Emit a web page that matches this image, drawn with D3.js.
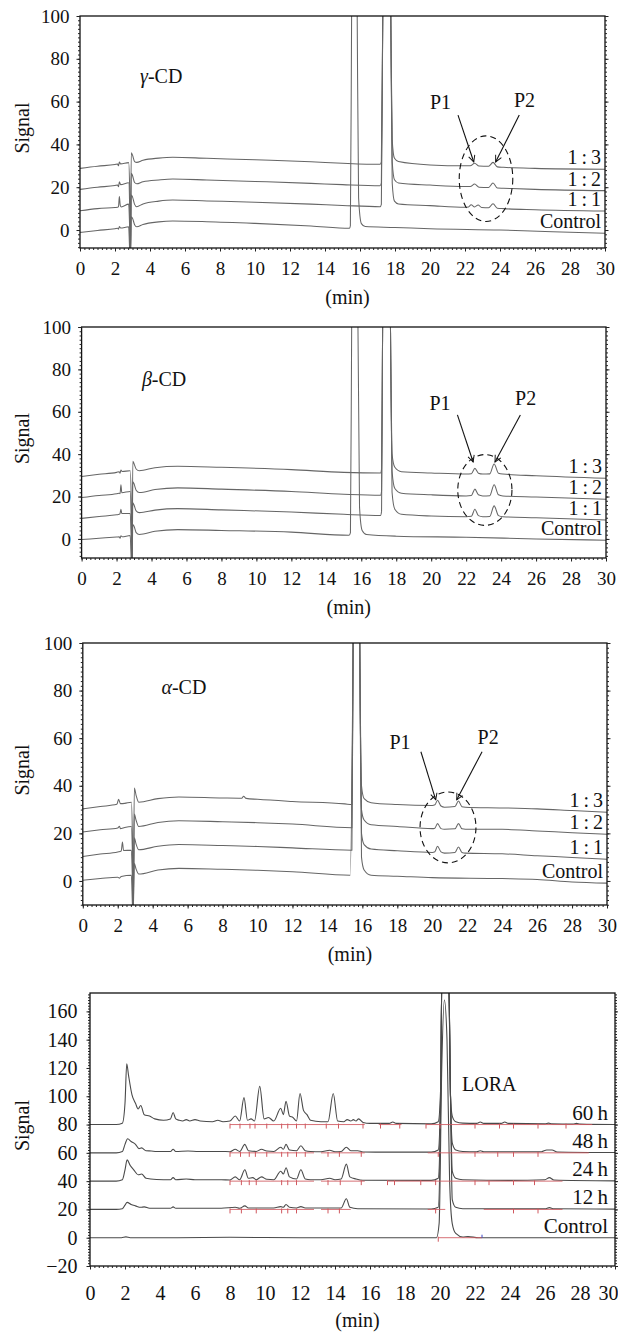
<!DOCTYPE html>
<html>
<head>
<meta charset="utf-8">
<script src="https://cdn.jsdelivr.net/npm/d3@7"></script>
<style>
  body { margin: 0; background: #fff; }
</style>
</head>
<body>
<svg id="fig" width="618" height="1333"></svg>
<script>
/* Chromatograms: CD inclusion (gamma / beta / alpha) + LORA degradation */

// --- axis ticks ---
const xTicks = [0, 2, 4, 6, 8, 10, 12, 14, 16, 18, 20, 22, 24, 26, 28, 30];
const cdTicks = [0, 20, 40, 60, 80, 100];
const loraTicks = [-20, 0, 20, 40, 60, 80, 100, 120, 140, 160];

// --- trace names ---
const ratioNames = ["1\u2009:\u20093", "1\u2009:\u20092", "1\u2009:\u20091", "Control"];
const timeNames = ["60\u2009h", "48\u2009h", "24\u2009h", "12\u2009h", "Control"];

// --- gamma-CD traces [min, signal] ---
const gamma13 = [[0,28.8],[1,29.8],[2.0,30.6],[2.15,30.8],[2.2,30.0],[2.25,31.8],[2.32,30.9],[2.78,31.5],[2.84,18],[2.88,-15],[2.93,36.1],[3.0,35],[3.12,32.0],[3.24,31.6],[3.6,32.6],[4.5,33.6],[5.3,34.0],[7.25,33.5],[10,32.8],[13.2,31.9],[15,31.2],[17.15,30.7],[17.22,32],[17.3,100],[17.36,150],[17.7,150],[17.76,100],[17.84,42],[17.97,33.5],[18.2,32],[20,30.4],[22,30],[22.3,30],[22.55,31.2],[22.8,29.9],[23.35,29.8],[23.6,31.6],[23.85,29.5],[24.2,29.3],[26,28.8],[30,28.4]];
const gamma12 = [[0,19],[1,20],[2.0,20.8],[2.15,21],[2.2,20.2],[2.25,22.5],[2.32,21.2],[2.78,22.1],[2.84,10],[2.88,-15],[2.93,26.5],[3.0,25.5],[3.12,22.2],[3.24,21.6],[3.6,22.6],[4.5,23.4],[5.3,23.8],[7.25,23.4],[10,22.7],[13.2,21.8],[15,21.2],[17.15,20.7],[17.22,22],[17.3,100],[17.36,150],[17.7,150],[17.76,100],[17.84,32],[17.97,23.5],[18.2,22],[20,21],[22,20.3],[22.3,20.3],[22.55,21.5],[22.8,20],[23.35,19.9],[23.6,22],[23.85,19.6],[24.2,19.5],[26,19],[30,18.4]];
const gamma11 = [[0,9],[1,10],[2.0,10.5],[2.15,10.6],[2.2,11],[2.25,15.6],[2.3,11.5],[2.36,10.8],[2.78,12.1],[2.84,0],[2.88,-15],[2.93,16.4],[3.0,15.5],[3.12,12],[3.24,10.9],[3.6,12.2],[4.5,13.5],[5.3,14],[7.25,13.6],[10,13],[13.2,12.1],[15,11.5],[17.15,10.9],[17.22,12],[17.3,100],[17.36,150],[17.7,150],[17.76,100],[17.84,22],[17.97,13.5],[18.2,12.2],[20,11.4],[22,10.6],[22.2,10.8],[22.35,11.8],[22.55,10.8],[22.75,11.7],[22.95,10.5],[23.35,10.4],[23.6,12.3],[23.85,10.2],[24.2,10],[26,9.5],[30,8.9]];
const gammaCtrl = [[0,-1.1],[1,-0.2],[2.0,0.6],[2.15,0.8],[2.2,0.4],[2.25,1.6],[2.32,0.9],[2.78,1.5],[2.84,-10],[2.88,-15],[2.93,6.2],[3.0,5.5],[3.12,2.5],[3.24,1.5],[3.6,2.6],[4.5,3.8],[5.3,4.2],[7.25,3.9],[10,3.1],[13.2,1.9],[15.4,0.8],[15.45,2],[15.52,100],[15.56,150],[15.8,150],[15.84,100],[15.92,15],[16.08,3],[16.3,1.6],[18,1.2],[20,0.6],[24,0],[27,-0.8],[30,-1.5]];

// --- beta-CD traces ---
const beta13 = [[0,29.5],[1,30.5],[2.0,31.4],[2.15,31.7],[2.2,31],[2.25,32.5],[2.32,31.8],[2.78,32.2],[2.84,18],[2.88,-15],[2.93,36.7],[3.0,35.5],[3.12,33],[3.3,32.2],[4.2,33.6],[5.5,34.3],[8,33.8],[12,32.7],[15,31.4],[17.1,31.1],[17.16,33],[17.22,100],[17.27,150],[17.63,150],[17.67,100],[17.76,40],[17.92,33.8],[18.3,31.7],[20,31.1],[22,30.6],[22.3,30.8],[22.5,33.3],[22.7,31],[22.95,30.6],[23.35,30.7],[23.6,35.4],[23.85,31],[24.1,30.6],[26,29.8],[30,28.6]];
const beta12 = [[0,19.5],[1,20.5],[2.0,21.3],[2.15,21.6],[2.2,21.3],[2.25,25.6],[2.3,21.8],[2.78,22.4],[2.84,10],[2.88,-15],[2.93,27],[3.0,26],[3.12,23],[3.3,21.9],[4.2,23.3],[5.5,24.1],[8,23.5],[12,22.4],[15,21.1],[17.1,20.6],[17.16,22.5],[17.22,100],[17.27,150],[17.63,150],[17.67,100],[17.76,32],[17.92,23.8],[18.3,21.6],[20,20.8],[22,20.3],[22.3,20.5],[22.5,23.5],[22.7,20.8],[22.95,20.3],[23.35,20.4],[23.6,25.6],[23.85,20.8],[24.1,20.3],[26,19.8],[30,18.7]];
const beta11 = [[0,9.7],[1,10.6],[2.0,11.4],[2.15,11.6],[2.2,12],[2.25,14],[2.3,12],[2.78,12],[2.84,0],[2.88,-15],[2.93,17.1],[3.0,16],[3.12,13.2],[3.3,12.4],[4.2,13.6],[5.5,14.3],[8,13.7],[12,12.7],[15,11.6],[17.1,11.1],[17.16,13],[17.22,100],[17.27,150],[17.63,150],[17.67,100],[17.76,22],[17.92,14],[18.3,11.6],[20,10.8],[22,10.5],[22.3,10.7],[22.5,14],[22.7,11],[22.95,10.5],[23.35,10.6],[23.6,15.6],[23.85,11],[24.1,10.5],[26,10],[30,8.9]];
const betaCtrl = [[0,-0.3],[1,0.3],[2.0,0.9],[2.15,1],[2.2,0.3],[2.25,1.5],[2.32,1],[2.78,1.6],[2.84,-10],[2.88,-15],[2.93,6.8],[3.0,6],[3.12,3],[3.3,2.1],[4.2,3.6],[5.5,4.4],[8,4],[12,3.2],[15.3,1.7],[15.38,3],[15.45,100],[15.5,150],[15.78,150],[15.81,100],[15.9,15],[16.05,4],[16.3,2.1],[18,1.3],[22,0.8],[26,0],[30,-0.6]];

// --- alpha-CD traces ---
const alpha13 = [[0,30.3],[1,31.3],[1.95,32.2],[2.05,34.3],[2.15,32.5],[2.4,32.6],[2.78,33.1],[2.84,18],[2.88,-15],[2.95,39.1],[3.05,36],[3.2,33.1],[4.3,34.6],[5.5,35.3],[8,34.9],[9.1,34.8],[9.2,35.6],[9.35,34.7],[10,34.3],[12,33.4],[15,32.4],[15.4,32.1],[15.47,100],[15.52,150],[15.82,150],[15.85,100],[15.95,40],[16.1,34.6],[16.5,32.9],[18,32.1],[20,31.7],[20.15,32],[20.3,33.9],[20.5,31.5],[20.7,31],[21.3,31.3],[21.5,33.6],[21.7,31.2],[21.9,31],[24,30.7],[26,30.3],[28,29.6],[30,28.9]];
const alpha12 = [[0,20.6],[1,21.5],[2.0,22.3],[2.1,23],[2.15,22],[2.4,22.5],[2.78,22.9],[2.84,10],[2.88,-15],[2.95,28.1],[3.05,25.5],[3.2,22.9],[4.3,24.6],[5.5,25.3],[8,24.9],[10,24.5],[12,23.9],[15.4,22.4],[15.47,100],[15.52,150],[15.82,150],[15.85,100],[15.95,30],[16.1,25.6],[16.5,23.6],[18,22.9],[20,22],[20.15,22.2],[20.3,24.1],[20.5,22],[20.7,21.7],[21.3,21.9],[21.5,24.1],[21.7,21.9],[21.9,21.7],[24,21.7],[26,21],[28,20.3],[30,19.6]];
const alpha11 = [[0,10.3],[1,11.3],[2.0,12.2],[2.2,12.6],[2.27,16.4],[2.33,12.8],[2.78,12.9],[2.84,0],[2.88,-15],[2.95,18.1],[3.05,15.5],[3.2,13.1],[4.3,14.6],[5.5,15.3],[8,14.9],[10,14.5],[12,13.9],[15.4,12.9],[15.47,100],[15.52,150],[15.82,150],[15.85,100],[15.95,20],[16.1,15.3],[16.5,13.4],[18,12.7],[20,12],[20.15,12.3],[20.3,14.6],[20.5,12.2],[20.7,11.7],[21.3,12],[21.5,14.3],[21.7,12],[21.9,11.7],[24,11.4],[26,10.6],[28,9.9],[30,9.1]];
const alphaCtrl = [[0,0.3],[1,1],[2.0,1.6],[2.1,1.2],[2.2,1.9],[2.78,2.4],[2.84,-10],[2.88,-15],[2.95,7.4],[3.05,5],[3.2,2.9],[4.3,4.6],[5.5,5.3],[8,4.9],[10,4.5],[12,3.9],[15.3,2.4],[15.47,100],[15.52,150],[15.82,150],[15.85,100],[15.95,10],[16.1,4.6],[16.5,2.4],[18,2],[20,1.4],[24,1],[26,0.6],[28,-0.4],[30,-0.9]];

// --- LORA degradation traces ---
const lora60 = [[0,80],[1.5,80],[1.85,81],[2.0,95],[2.1,123],[2.2,115],[2.4,101],[2.6,95],[2.75,91],[2.9,93.5],[3.1,87],[3.4,86],[3.7,84],[4.2,83],[4.6,84],[4.75,88.5],[4.9,84],[5.1,83],[5.3,82.5],[5.5,83.5],[5.7,82.5],[6.0,83.5],[6.3,82.5],[7.0,82],[7.3,83],[7.6,82],[8.0,82.5],[8.3,86],[8.55,82.5],[8.8,99],[9.0,83],[9.2,84],[9.4,82.5],[9.7,107],[9.95,84],[10.2,85],[10.5,82.5],[10.9,91.5],[11.05,87],[11.2,96.5],[11.4,86],[11.6,85],[11.8,82.5],[12.0,102],[12.2,90],[12.4,87],[12.6,83],[13.2,82],[13.6,82],[13.9,102],[14.15,82.5],[14.5,82],[14.7,83.5],[14.9,82.5],[15.05,83.5],[15.2,82.5],[15.35,84],[15.6,81.5],[16,80.8],[17.1,80.8],[17.3,81.8],[17.5,80.8],[19.5,80.5],[19.9,82],[20.05,110],[20.1,180],[20.5,180],[20.6,100],[20.7,86],[20.9,82],[21.3,81],[22.1,80.8],[22.3,81.8],[22.5,80.8],[23.5,80.8],[23.7,81.8],[23.9,80.8],[26,80.5],[26.2,81],[26.4,80.5],[27.6,80.3],[27.8,80.8],[28,80.3],[30,80]];
const lora48 = [[0,60],[1.5,60],[1.85,61],[2.0,66],[2.15,70],[2.35,68],[2.6,66],[2.8,63],[2.95,63.5],[3.2,61.5],[3.5,61.3],[3.8,61],[4.6,61],[4.75,62.5],[4.9,61],[5.6,61.3],[6.2,61],[7.5,61],[8.0,60.8],[8.3,62.5],[8.55,61],[8.85,66],[9.05,61.5],[9.5,61],[9.8,62.5],[10.1,61.3],[10.5,61],[10.9,64],[11.05,62.5],[11.2,66],[11.4,62],[11.8,61.5],[12.05,65],[12.3,61.5],[12.6,61],[13.2,60.8],[13.7,61.8],[14.0,60.8],[14.35,61],[14.65,64],[14.9,61.5],[15.3,61.5],[15.6,60.6],[17.5,60.5],[19.5,60.5],[19.9,62],[20.05,110],[20.1,180],[20.5,180],[20.6,100],[20.7,67],[20.9,62],[21.3,61],[22.1,60.8],[22.3,61.5],[22.5,60.8],[25.8,60.8],[26.1,62],[26.4,62],[26.7,60.6],[30,60.2]];
const lora24 = [[0,40],[1.5,40],[1.85,41],[2.0,48],[2.12,55],[2.3,51],[2.5,48],[2.75,44.5],[2.95,45],[3.2,42],[3.8,41.2],[4.6,41],[4.75,42.5],[4.9,41],[5.5,41.5],[6,41],[7.5,41],[8.0,40.8],[8.3,43],[8.55,41],[8.85,48],[9.05,42],[9.3,42.5],[9.5,41],[9.8,43],[10.1,41.3],[10.5,41],[10.9,47],[11.05,45],[11.2,49.5],[11.4,43],[11.8,41.5],[12.05,48],[12.3,41.5],[12.6,41],[13.2,41],[13.7,42],[14.0,41],[14.35,41.5],[14.65,52],[14.85,43],[15.2,41.5],[15.6,40.6],[19.5,40.5],[19.9,42],[20.05,110],[20.1,180],[20.5,180],[20.6,100],[20.7,47],[20.9,42],[21.3,41],[24,40.5],[26.0,41],[26.25,42.5],[26.5,40.8],[30,40.2]];
const lora12 = [[0,20],[1.5,20],[1.85,20.5],[2.0,23],[2.12,25],[2.35,23.5],[2.6,22.5],[2.9,21.5],[3.1,21.8],[3.4,20.8],[4.6,20.8],[4.75,21.8],[4.9,20.8],[7.5,20.8],[8.3,21.5],[8.55,20.8],[8.85,22.5],[9.05,21],[10.5,21],[10.9,22],[11.05,21.5],[11.2,23.5],[11.4,21.5],[11.8,21],[12.05,22],[12.3,21],[13.5,21],[14.35,21],[14.65,27.5],[14.85,21.5],[15.3,20.5],[19.5,20.3],[19.9,21.5],[20.05,110],[20.1,180],[20.5,180],[20.6,100],[20.7,27],[20.9,21.5],[21.3,20.5],[26,20.5],[26.25,21.3],[26.5,20.5],[30,20.2]];
const loraCtrl = [[0,0],[1.8,0],[2.05,0.6],[2.3,0],[5,0],[8,0.3],[12,0],[19.8,0],[19.95,10],[20.1,120],[20.25,168],[20.4,140],[20.55,40],[20.7,10],[20.9,3],[21.3,0.5],[21.6,0.8],[22.2,0],[30,0]];

// --- LORA integration marks (red) ---
const loraBase = [80, 60, 40, 20, 0];
const spans60 = [[8, 15.7], [16.5, 17.8], [19.2, 28.7]];
const spans48 = [[8, 12.8], [13.2, 15.7], [19.3, 28.5]];
const spans24 = [[8, 12.8], [13.2, 15.7], [17, 27]];
const spans12 = [[8, 12.8], [13.2, 14.9], [19.3, 20.3], [22.5, 27]];
const spansCtrl = [[19.9, 22.4]];
const cuts60 = [8.0, 8.57, 9.14, 9.43, 10.1, 10.95, 11.3, 11.8, 12.3, 13.5, 14.2, 15.6, 16.6, 17.7, 19.2, 20.0, 22.0, 23.4, 24.2, 25.6, 27.2];
const cuts48 = [8.0, 8.6, 9.1, 9.45, 10.1, 10.95, 11.3, 11.8, 12.3, 13.6, 14.25, 15.5, 19.9, 22.0, 23.3, 24.2, 25.6];
const cuts24 = [8.0, 8.65, 9.1, 9.5, 10.95, 11.3, 11.8, 13.6, 14.3, 15.5, 17.0, 17.4, 18.9, 19.75, 22.0, 22.8, 24.2, 25.4];
const cuts12 = [8.0, 8.65, 9.5, 10.95, 11.3, 11.8, 13.6, 14.25, 19.75, 24.2, 25.6];
const cutsCtrl = [19.9];

// --- annotations: [min, signal, text] / arrows [x0,y0,x1,y1] / ellipse [cx,cy,rx(min),ry(signal)] ---
const gammaNotes = [[20.6, 59.8, "P1"], [25.4, 60.7, "P2"]];
const gammaArrows = [[21.6, 53.7, 22.5, 31.8], [25.1, 53.7, 23.75, 31.8]];
const gammaRing = [23.2, 24, 1.53, 20];
const betaNotes = [[20.5, 64, "P1"], [25.4, 66.5, "P2"]];
const betaArrows = [[21.5, 58.5, 22.4, 36.3], [25.1, 58.5, 23.65, 36.3]];
const betaRing = [23.07, 23.1, 1.55, 16.7];
const alphaNotes = [[18.15, 58.5, "P1"], [23.2, 60.6, "P2"]];
const alphaArrows = [[19.35, 54.3, 20.2, 34.1], [22.85, 54.3, 21.4, 34.1]];
const alphaRing = [20.9, 22.5, 1.6, 14.9];

(function () {
  // pick the first installed serif face (falls back to whatever the page has)
  function pickFont(names) {
    const ctx = document.createElement("canvas").getContext("2d");
    const probe = "Signal (min) 0123456789 Control";
    ctx.font = "40px monospace";
    const mono = ctx.measureText(probe).width;
    ctx.font = "40px sans-serif";
    const sans = ctx.measureText(probe).width;
    for (const n of names) {
      ctx.font = `40px '${n}', monospace`;
      const w1 = ctx.measureText(probe).width;
      ctx.font = `40px '${n}', sans-serif`;
      const w2 = ctx.measureText(probe).width;
      if (w1 !== mono || w2 !== sans) return `'${n}', serif`;
    }
    return "serif";
  }
  const SERIF = pickFont(["Liberation Serif", "Tinos", "Times New Roman", "DejaVu Serif",
    "Noto Serif", "FreeSerif", "Nimbus Roman", "Nimbus Roman No9 L", "Noto Serif CJK SC",
    "Noto Serif CJK JP", "Times", "Georgia"]);

  const svg = d3.select("#fig").style("font-family", SERIF);
  svg.append("rect").attr("width", 618).attr("height", 1333).attr("fill", "#fff");

  const defs = svg.append("defs");
  defs.append("marker")
    .attr("id", "arrow")
    .attr("viewBox", "0 0 10 10")
    .attr("refX", 9).attr("refY", 5)
    .attr("markerWidth", 8).attr("markerHeight", 8)
    .attr("markerUnits", "userSpaceOnUse")
    .attr("orient", "auto")
    .append("path")
    .attr("d", "M1,1 L9,5 L1,9")
    .attr("fill", "none")
    .attr("stroke", "#111")
    .attr("stroke-width", 1.2);

  const panels = [
    { id: "g", l: 80, r: 605, t: 16, b: 248, yDomain: [-8.4, 100], yTicks: cdTicks,
      traces: [gamma13, gamma12, gamma11, gammaCtrl], names: ratioNames,
      title: ["γ", "-CD", 3.43, 68.7], notes: gammaNotes, arrows: gammaArrows, ring: gammaRing,
      xPad: 10, yPad: 7, fs: 19, nameInset: 4 },
    { id: "b", l: 81.6, r: 606, t: 327, b: 558, yDomain: [-9, 100], yTicks: cdTicks,
      traces: [beta13, beta12, beta11, betaCtrl], names: ratioNames,
      title: ["β", "-CD", 3.45, 72], notes: betaNotes, arrows: betaArrows, ring: betaRing,
      xPad: 10, yPad: 7, fs: 19, nameInset: 4 },
    { id: "a", l: 82.8, r: 607, t: 643, b: 905, yDomain: [-10.1, 100], yTicks: cdTicks,
      traces: [alpha13, alpha12, alpha11, alphaCtrl], names: ratioNames,
      title: ["α", "-CD", 4.5, 78.6], notes: alphaNotes, arrows: alphaArrows, ring: alphaRing,
      xPad: 10, yPad: 7, fs: 19, nameInset: 4 },
    { id: "l", l: 90, r: 615, t: 993, b: 1266, yDomain: [-20, 173], yTicks: loraTicks,
      traces: [lora60, lora48, lora24, lora12, loraCtrl], names: timeNames,
      lora: true, xPad: 16, yPad: 9, fs: 20, nameInset: 7 }
  ];

  panels.forEach(drawPanel);

  function drawPanel(p) {
    const x = d3.scaleLinear().domain([0, 30]).range([p.l, p.r]);
    const y = d3.scaleLinear().domain(p.yDomain).range([p.b, p.t]);
    const g = svg.append("g");

    defs.append("clipPath").attr("id", "clip-" + p.id)
      .append("rect")
      .attr("x", p.l).attr("y", p.t)
      .attr("width", p.r - p.l).attr("height", p.b - p.t);

    const plot = g.append("g").attr("clip-path", `url(#clip-${p.id})`);
    const line = d3.line()
      .x(d => x(d[0]))
      .y(d => y(d[1]))
      .curve(d3.curveMonotoneX);

    // traces
    plot.selectAll("path.trace")
      .data(p.traces)
      .join("path")
      .attr("class", "trace")
      .attr("d", line)
      .attr("fill", "none")
      .attr("stroke", p.lora ? "#4a4a4a" : "#666")
      .attr("stroke-width", p.lora ? 1.1 : 1.05)
      .attr("stroke-linejoin", "round");

    // red integration baselines + cut marks on LORA panel
    if (p.lora) {
      const spans = [spans60, spans48, spans24, spans12, spansCtrl];
      const cuts = [cuts60, cuts48, cuts24, cuts12, cutsCtrl];
      spans.forEach((list, i) => {
        plot.selectAll(null)
          .data(list)
          .join("line")
          .attr("x1", d => x(d[0])).attr("x2", d => x(d[1]))
          .attr("y1", y(loraBase[i])).attr("y2", y(loraBase[i]))
          .attr("stroke", "#d0585f").attr("stroke-width", 1).attr("opacity", 0.85);
        plot.selectAll(null)
          .data(cuts[i])
          .join("line")
          .attr("x1", d => x(d)).attr("x2", d => x(d))
          .attr("y1", y(loraBase[i]) - 1).attr("y2", y(loraBase[i]) + 4)
          .attr("stroke", "#d0585f").attr("stroke-width", 1);
      });
      // small blue marker at end of control integration
      plot.append("line")
        .attr("x1", x(spansCtrl[0][1])).attr("x2", x(spansCtrl[0][1]))
        .attr("y1", y(0) - 3).attr("y2", y(0))
        .attr("stroke", "#3a48c8").attr("stroke-width", 1);
    }

    // frame
    g.append("rect")
      .attr("x", p.l).attr("y", p.t)
      .attr("width", p.r - p.l).attr("height", p.b - p.t)
      .attr("fill", "none").attr("stroke", "#111").attr("stroke-width", 1.3);

    // axes (major with labels, minor dotted ticks)
    const fmt = d => d < 0 ? "\u2212" + Math.abs(d) : String(d);
    const minorX = d3.range(0, 30.001, 0.25);
    const minorY = d3.range(Math.ceil(p.yDomain[0] / 2) * 2, p.yDomain[1] + 0.001, 2);

    function styleAxis(sel) {
      sel.select(".domain").remove();
      sel.attr("color", "#222").attr("font-family", SERIF).attr("font-size", p.fs);
      sel.selectAll("text").attr("fill", "#111").style("font-family", SERIF);
    }

    g.append("g").attr("transform", `translate(0,${p.b})`)
      .call(d3.axisBottom(x).tickValues(minorX).tickSize(2).tickFormat(""))
      .call(styleAxis);
    const xAxis = g.append("g").attr("transform", `translate(0,${p.b})`)
      .call(d3.axisBottom(x).tickValues(xTicks).tickSize(3.5).tickPadding(p.xPad).tickFormat(fmt))
      .call(styleAxis);
    // keep the last label inside the page
    xAxis.selectAll(".tick text").filter(d => x(d) + 10 > 618).attr("text-anchor", "end").attr("x", 618 - x(30));
    g.append("g").attr("transform", `translate(${p.l},0)`)
      .call(d3.axisLeft(y).tickValues(minorY).tickSize(2).tickFormat(""))
      .call(styleAxis);
    g.append("g").attr("transform", `translate(${p.l},0)`)
      .call(d3.axisLeft(y).tickValues(p.yTicks).tickSize(3.5).tickPadding(p.yPad).tickFormat(fmt))
      .call(styleAxis);
    g.append("g").attr("transform", `translate(${p.r},0)`)
      .call(d3.axisRight(y).tickValues(minorY).tickSize(2).tickFormat(""))
      .call(styleAxis);
    g.append("g").attr("transform", `translate(${p.r},0)`)
      .call(d3.axisRight(y).tickValues(p.yTicks).tickSize(3.5).tickFormat(""))
      .call(styleAxis);

    const txt = (sel) => sel.style("font-family", SERIF).attr("fill", "#111");

    // axis titles
    const midY = (p.t + p.b) / 2 - 4;
    g.append("text")
      .attr("transform", `translate(22,${midY}) rotate(-90)`)
      .attr("text-anchor", "middle")
      .attr("dominant-baseline", "central")
      .attr("font-size", 20)
      .call(txt)
      .text("Signal");
    g.append("text")
      .attr("x", (p.l + p.r) / 2 + 5)
      .attr("y", p.b + (p.lora ? 61 : 56))
      .attr("text-anchor", "middle")
      .attr("font-size", 20)
      .call(txt)
      .text("(min)");

    // trace end labels
    p.traces.forEach((tr, i) => {
      const last = tr[tr.length - 1];
      g.append("text")
        .attr("x", p.r - p.nameInset)
        .attr("y", y(last[1]) - 5)
        .attr("text-anchor", "end")
        .attr("font-size", p.fs + 1)
        .call(txt)
        .text(p.names[i]);
    });

    if (p.lora) {
      g.append("text")
        .attr("x", x(21.26)).attr("y", y(103.5))
        .attr("font-size", 20)
        .call(txt)
        .text("LORA");
      return;
    }

    // panel title with italic Greek letter
    const t = g.append("text")
      .attr("x", x(p.title[2])).attr("y", y(p.title[3]))
      .attr("font-size", 20)
      .call(txt);
    t.append("tspan").attr("font-style", "italic").text(p.title[0]);
    t.append("tspan").text(p.title[1]);

    // P1 / P2 labels, arrows, dashed ellipse
    g.selectAll(null)
      .data(p.notes)
      .join("text")
      .attr("x", d => x(d[0])).attr("y", d => y(d[1]))
      .attr("text-anchor", "middle")
      .attr("dominant-baseline", "central")
      .attr("font-size", 20)
      .call(txt)
      .text(d => d[2]);

    g.selectAll(null)
      .data(p.arrows)
      .join("line")
      .attr("x1", d => x(d[0])).attr("y1", d => y(d[1]))
      .attr("x2", d => x(d[2])).attr("y2", d => y(d[3]))
      .attr("stroke", "#111").attr("stroke-width", 1.1)
      .attr("marker-end", "url(#arrow)");

    const r = p.ring;
    g.append("ellipse")
      .attr("cx", x(r[0])).attr("cy", y(r[1]))
      .attr("rx", x(r[0] + r[2]) - x(r[0]))
      .attr("ry", y(r[1] - r[3]) - y(r[1]))
      .attr("fill", "none")
      .attr("stroke", "#111").attr("stroke-width", 1.1)
      .attr("stroke-dasharray", "6,4");
  }
})();
</script>
</body>
</html>
